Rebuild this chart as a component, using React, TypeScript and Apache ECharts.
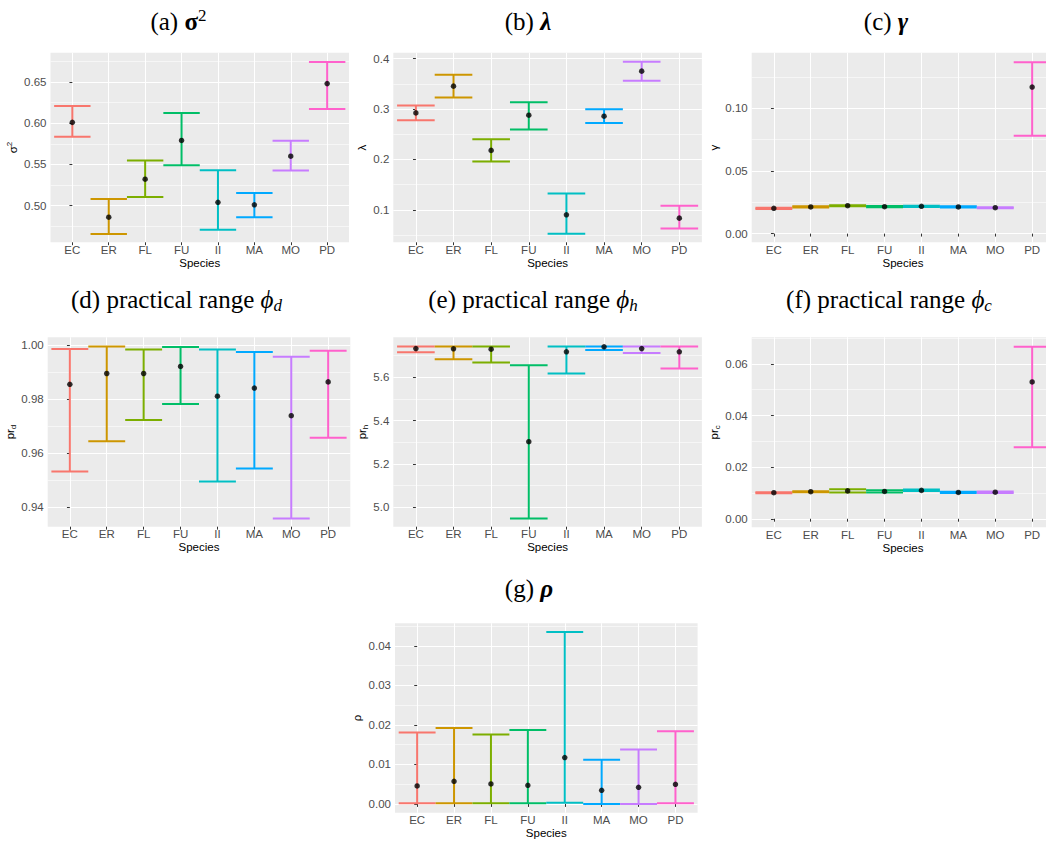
import React, { useEffect, useRef } from "react";
import * as echarts from "echarts";

// ---------- data ----------
const species = ["EC", "ER", "FL", "FU", "II", "MA", "MO", "PD"];
const palette = ["#F8766D", "#CD9600", "#7CAE00", "#00BE67", "#00BFC4", "#00A9FF", "#C77CFF", "#FF61CC"];

// (a) sigma^2
const sigma2Est = [0.601, 0.486, 0.532, 0.579, 0.504, 0.501, 0.560, 0.648];
const sigma2Lo = [0.5835, 0.4655, 0.5105, 0.549, 0.4708, 0.4858, 0.5425, 0.6172];
const sigma2Hi = [0.6208, 0.508, 0.5547, 0.6123, 0.5429, 0.5154, 0.5786, 0.6743];
const sigma2Ticks = [0.5, 0.55, 0.6, 0.65];
const sigma2Minor = [0.475, 0.525, 0.575, 0.625, 0.675];

// (b) lambda
const lambdaEst = [0.2925, 0.3456, 0.218, 0.2879, 0.0901, 0.2859, 0.3754, 0.0835];
const lambdaLo = [0.278, 0.323, 0.196, 0.2593, 0.0523, 0.2726, 0.3562, 0.0629];
const lambdaHi = [0.307, 0.368, 0.24, 0.3137, 0.1326, 0.2995, 0.394, 0.108];
const lambdaTicks = [0.1, 0.2, 0.3, 0.4];
const lambdaMinor = [0.05, 0.15, 0.25, 0.35];

// (c) gamma
const gammaEst = [0.0202, 0.0213, 0.0223, 0.0215, 0.0218, 0.0213, 0.0207, 0.117];
const gammaLo = [0.0197, 0.0208, 0.0219, 0.021, 0.0213, 0.0208, 0.0203, 0.0782];
const gammaHi = [0.0207, 0.0218, 0.0227, 0.022, 0.0223, 0.0218, 0.0211, 0.1367];
const gammaTicks = [0, 0.05, 0.1];
const gammaMinor = [0.025, 0.075, 0.125];

// (d) practical range phi_d
const prdEst = [0.9855, 0.9895, 0.9895, 0.9921, 0.9811, 0.9841, 0.9739, 0.9864];
const prdLo = [0.9532, 0.9644, 0.9723, 0.9782, 0.9495, 0.9543, 0.9358, 0.9657];
const prdHi = [0.9986, 0.9995, 0.9984, 0.9993, 0.9984, 0.9975, 0.9957, 0.9979];
const prdTicks = [0.94, 0.96, 0.98, 1.0];
const prdMinor = [0.95, 0.97, 0.99];

// (e) practical range phi_h
const prhEst = [5.732, 5.731, 5.729, 5.303, 5.717, 5.74, 5.732, 5.717];
const prhLo = [5.715, 5.683, 5.668, 4.949, 5.617, 5.726, 5.712, 5.64];
const prhHi = [5.7415, 5.7415, 5.7415, 5.655, 5.7415, 5.7415, 5.7415, 5.7415];
const prhTicks = [5.0, 5.2, 5.4, 5.6];
const prhMinor = [5.1, 5.3, 5.5, 5.7];

// (f) practical range phi_c
const prcEst = [0.0101, 0.0105, 0.0108, 0.0106, 0.011, 0.0102, 0.0103, 0.053];
const prcLo = [0.0099, 0.0103, 0.0102, 0.0102, 0.0108, 0.01, 0.01, 0.0277];
const prcHi = [0.0103, 0.0107, 0.0114, 0.0111, 0.0113, 0.0105, 0.0106, 0.0666];
const prcTicks = [0, 0.02, 0.04, 0.06];
const prcMinor = [0.01, 0.03, 0.05, 0.07];

// (g) rho
const rhoEst = [0.00457, 0.00575, 0.00507, 0.00474, 0.01175, 0.00347, 0.00423, 0.00499];
const rhoLo = [0.00017, 0.0002, 0.0002, 0.0002, 0.00034, 0.0, 0.0, 0.0002];
const rhoHi = [0.0181, 0.0192, 0.0176, 0.0187, 0.04347, 0.0112, 0.0138, 0.0184];
const rhoTicks = [0, 0.01, 0.02, 0.03, 0.04];
const rhoMinor = [0.005, 0.015, 0.025, 0.035, 0.045];

// ---------- layout / styles ----------
const panels = [
  { est: sigma2Est, lo: sigma2Lo, hi: sigma2Hi, ticks: sigma2Ticks, minor: sigma2Minor, dec: 2, min: 0.4555, max: 0.6855,
    name: "{n|σ}{sup|2}", left: 50.5, top: 52.7, width: 298.5, height: 189.6, gap: 27.5, xGap: 11 },
  { est: lambdaEst, lo: lambdaLo, hi: lambdaHi, ticks: lambdaTicks, minor: lambdaMinor, dec: 1, min: 0.0355, max: 0.412,
    name: "{n|λ}", left: 393.3, top: 52.7, width: 308.6, height: 189.6, gap: 21, xGap: 11 },
  { est: gammaEst, lo: gammaLo, hi: gammaHi, ticks: gammaTicks, minor: gammaMinor, dec: 2, min: -0.0069, max: 0.1444,
    name: "{n|γ}", left: 751.7, top: 52.7, width: 302.6, height: 189.6, gap: 26.4, xGap: 11 },
  { est: prdEst, lo: prdLo, hi: prdHi, ticks: prdTicks, minor: prdMinor, dec: 2, min: 0.9328, max: 1.0029,
    name: "{n|pr}{sub|d}", left: 47.7, top: 337.3, width: 302.6, height: 189.4, gap: 27.4, xGap: 11.5 },
  { est: prhEst, lo: prhLo, hi: prhHi, ticks: prhTicks, minor: prhMinor, dec: 1, min: 4.911, max: 5.784,
    name: "{n|pr}{sub|h}", left: 393.3, top: 337.3, width: 308.6, height: 189.4, gap: 21, xGap: 11.5 },
  { est: prcEst, lo: prcLo, hi: prcHi, ticks: prcTicks, minor: prcMinor, dec: 2, min: -0.0033, max: 0.0703,
    name: "{n|pr}{sub|c}", left: 751.7, top: 337.3, width: 302.6, height: 190, gap: 26.6, xGap: 11.5 },
  { est: rhoEst, lo: rhoLo, hi: rhoHi, ticks: rhoTicks, minor: rhoMinor, dec: 2, min: -0.0022, max: 0.0457,
    name: "{n|ρ}", left: 395, top: 623.3, width: 302.6, height: 189.4, gap: 28, xGap: 10 },
];

const titles = [
  { text: "(a) {b|σ}{sup|2}", x: 178.5, y: 21.5 },
  { text: "(b) {bi|λ}", x: 528, y: 21.5 },
  { text: "(c) {bi|γ}", x: 886, y: 21.5 },
  { text: "(d) practical range {i|ϕ}{sub|d}", x: 176.5, y: 299.6 },
  { text: "(e) practical range {i|ϕ}{sub|h}", x: 533, y: 299.6 },
  { text: "(f) practical range {i|ϕ}{sub|c}", x: 889, y: 299.6 },
  { text: "(g) {bi|ρ}", x: 529, y: 588.6 },
];

const SANS = "Liberation Sans";
const SERIF = "Liberation Serif";
const catIdx = species.map((_, k) => k);

export default function App() {
  const ref = useRef<HTMLDivElement>(null);

  useEffect(() => {
    document.body.style.margin = "0";
    const chart = echarts.init(ref.current as HTMLDivElement, null, { renderer: "svg" });

    const grid = panels.map((p) => ({
      left: p.left, top: p.top, width: p.width, height: p.height,
      show: true, backgroundColor: "#EBEBEB", borderWidth: 0,
      containLabel: false, outerBoundsMode: "none",
    }));

    const xAxis = panels.map((p, i) => ({
      type: "value", gridIndex: i, min: -0.6, max: 7.6,
      axisLine: { show: false },
      axisTick: { show: true, length: 2.9, lineStyle: { color: "#333333", width: 1 }, customValues: catIdx },
      axisLabel: {
        customValues: catIdx,
        formatter: (v: number) => species[Math.round(v)],
        color: "#4D4D4D", fontSize: 11.5, fontFamily: SANS, margin: 1.5,
      },
      splitLine: { show: true, lineStyle: { color: "#FFFFFF", width: 1.1 } },
      name: "Species", nameLocation: "middle", nameGap: p.xGap,
      nameTextStyle: { color: "#000000", fontSize: 11.5, fontFamily: SANS },
    }));

    const yMajor = panels.map((p, i) => ({
      type: "value", gridIndex: i, min: p.min, max: p.max, position: "left",
      axisLine: { show: false },
      axisTick: { show: true, length: 2.9, lineStyle: { color: "#333333", width: 1 }, customValues: p.ticks },
      axisLabel: {
        customValues: p.ticks,
        formatter: (v: number) => v.toFixed(p.dec),
        color: "#4D4D4D", fontSize: 11.5, fontFamily: SANS, margin: 4,
      },
      splitLine: { show: true, lineStyle: { color: "#FFFFFF", width: 1.1 } },
      name: p.name, nameLocation: "middle", nameGap: p.gap, nameRotate: 90,
      nameTextStyle: {
        color: "#000000", fontSize: 11.5, fontFamily: SANS, lineHeight: 15,
        rich: {
          n: { fontSize: 11.5, fontFamily: SANS, color: "#000000" },
          sup: { fontSize: 8, fontFamily: SANS, color: "#000000", verticalAlign: "top" },
          sub: { fontSize: 8, fontFamily: SANS, color: "#000000", verticalAlign: "bottom" },
        },
      },
    }));

    const yMinor = panels.map((p, i) => ({
      type: "value", gridIndex: i, min: p.min, max: p.max, position: "left",
      axisLine: { show: false },
      axisTick: { show: false, customValues: p.minor },
      axisLabel: { show: false, customValues: p.minor },
      splitLine: { show: true, lineStyle: { color: "#FFFFFF", width: 0.55 } },
    }));

    const series: any[] = [];
    panels.forEach((p, i) => {
      series.push({
        type: "custom", xAxisIndex: i, yAxisIndex: i, z: 2,
        data: species.map((_, k) => [k, p.lo[k], p.hi[k]]),
        encode: { x: 0, y: [1, 2] },
        renderItem: (params: any, api: any) => {
          const k = api.value(0);
          const top = api.coord([k, api.value(2)]);
          const bot = api.coord([k, api.value(1)]);
          const half = api.size([0.5, 0])[0];
          const style = { stroke: palette[k], lineWidth: 2, fill: null };
          return {
            type: "group",
            children: [
              { type: "line", shape: { x1: top[0], y1: top[1], x2: bot[0], y2: bot[1] }, style },
              { type: "line", shape: { x1: top[0] - half, y1: top[1], x2: top[0] + half, y2: top[1] }, style },
              { type: "line", shape: { x1: bot[0] - half, y1: bot[1], x2: bot[0] + half, y2: bot[1] }, style },
            ],
          };
        },
      });
      series.push({
        type: "scatter", xAxisIndex: i, yAxisIndex: i, z: 3,
        data: species.map((_, k) => [k, p.est[k]]),
        symbol: "circle", symbolSize: 5.5,
        itemStyle: { color: "#000000" },
      });
    });

    const TF = 25;
    const titleRich = {
      b: { fontFamily: SERIF, fontSize: TF, fontWeight: "bold", fill: "#000" },
      bi: { fontFamily: SERIF, fontSize: TF, fontWeight: "bold", fontStyle: "italic", fill: "#000" },
      i: { fontFamily: SERIF, fontSize: TF, fontStyle: "italic", fill: "#000" },
      sup: { fontFamily: SERIF, fontSize: 17, verticalAlign: "top", fill: "#000" },
      sub: { fontFamily: SERIF, fontSize: 17, fontStyle: "italic", verticalAlign: "bottom", fill: "#000" },
    };

    const graphic = titles.map((t) => ({
      type: "text", x: t.x, y: t.y, z: 10,
      style: {
        text: t.text, fontFamily: SERIF, fontSize: TF, fill: "#000000",
        align: "center", verticalAlign: "middle", lineHeight: 29, rich: titleRich,
      },
    }));

    chart.setOption({
      animation: false,
      backgroundColor: "#FFFFFF",
      grid,
      xAxis,
      yAxis: [...yMajor, ...yMinor],
      series,
      graphic,
    } as any);

    return () => chart.dispose();
  }, []);

  return (
    <div
      ref={ref}
      style={{ position: "fixed", left: 0, top: 0, width: 1046, height: 841, background: "#FFFFFF" }}
    />
  );
}
